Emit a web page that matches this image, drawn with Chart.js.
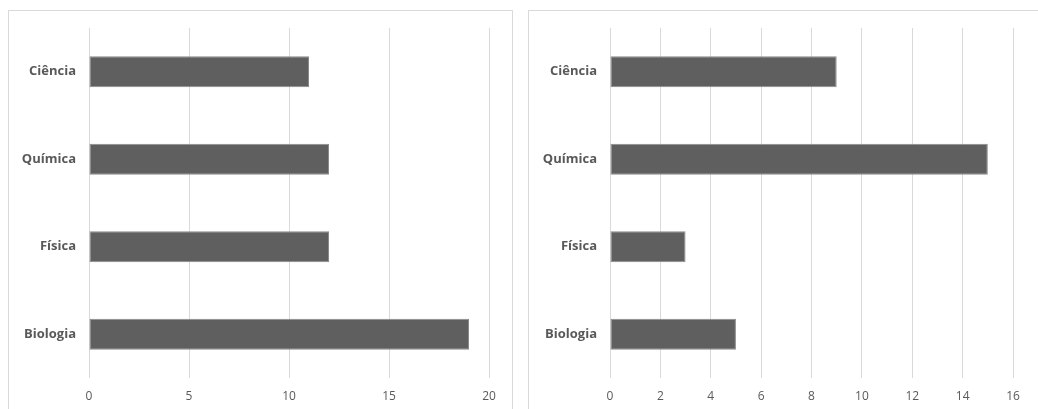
<!DOCTYPE html>
<html>
<head>
<meta charset="utf-8">
<script src="https://cdn.jsdelivr.net/npm/chart.js@4"></script>
<style>
    html, body { margin: 0; padding: 0; background: #fff; width: 1038px; height: 409px; overflow: hidden; }
    .panel { position: absolute; top: 10px; height: 420px; border: 1px solid #d9d9d9; box-sizing: border-box; background: #fff; }
    #p1 { left: 8px; width: 505px; }
    #p2 { left: 528px; width: 520px; border-right: none; }
    .box { position: absolute; top: 0; left: 0; height: 399px; }
    #p1 .box { width: 503px; }
    #p2 .box { width: 510px; }
</style>
</head>
<body>
<div class="panel" id="p1"><div class="box"><canvas id="c1"></canvas></div></div>
<div class="panel" id="p2"><div class="box"><canvas id="c2"></canvas></div></div>
<script>
const categories = ['Ciência', 'Química', 'Física', 'Biologia'];
const leftValues = [11, 12, 12, 19];
const rightValues = [9, 15, 3, 5];
const leftMax = 20, leftStep = 5;
const rightMax = 16, rightStep = 2;

const FONT = "'Open Sans', 'Noto Sans', sans-serif";

function hbar(canvasId, data, max, step, yWidth, padRight) {
    const ctx = document.getElementById(canvasId);
    return new Chart(ctx, {
        type: 'bar',
        data: {
            labels: categories,
            datasets: [{
                data,
                backgroundColor: '#5f5f5f',
                borderColor: '#8a8a8a',
                borderWidth: 1,
                borderSkipped: false,
                barPercentage: 0.355,
                categoryPercentage: 1,
            }]
        },
        options: {
            responsive: true,
            maintainAspectRatio: false,
            animation: false,
            indexAxis: 'y',
            layout: { padding: { top: 17, right: padRight, left: 0, bottom: 0 } },
            plugins: { legend: { display: false }, tooltip: { enabled: false } },
            scales: {
                x: {
                    min: 0, max,
                    ticks: { stepSize: step, color: '#595959', padding: 11, font: { family: FONT, size: 12 } },
                    grid: { color: '#d9d9d9', lineWidth: 1, drawTicks: false },
                    border: { display: false },
                    afterFit: (s) => { s.height = 32; },
                },
                y: {
                    ticks: { color: '#595959', padding: 13, font: { family: FONT, size: 13, weight: 'bold' } },
                    grid: { display: false, drawTicks: false },
                    border: { display: false },
                    afterFit: (s) => {
                        s.width = yWidth;
                        s.paddingTop = 0;
                        s.paddingBottom = 0;
                    },
                }
            }
        }
    });
}

hbar('c1', leftValues, leftMax, leftStep, 80, 23);
hbar('c2', rightValues, rightMax, rightStep, 81, 26);
</script>
</body>
</html>
